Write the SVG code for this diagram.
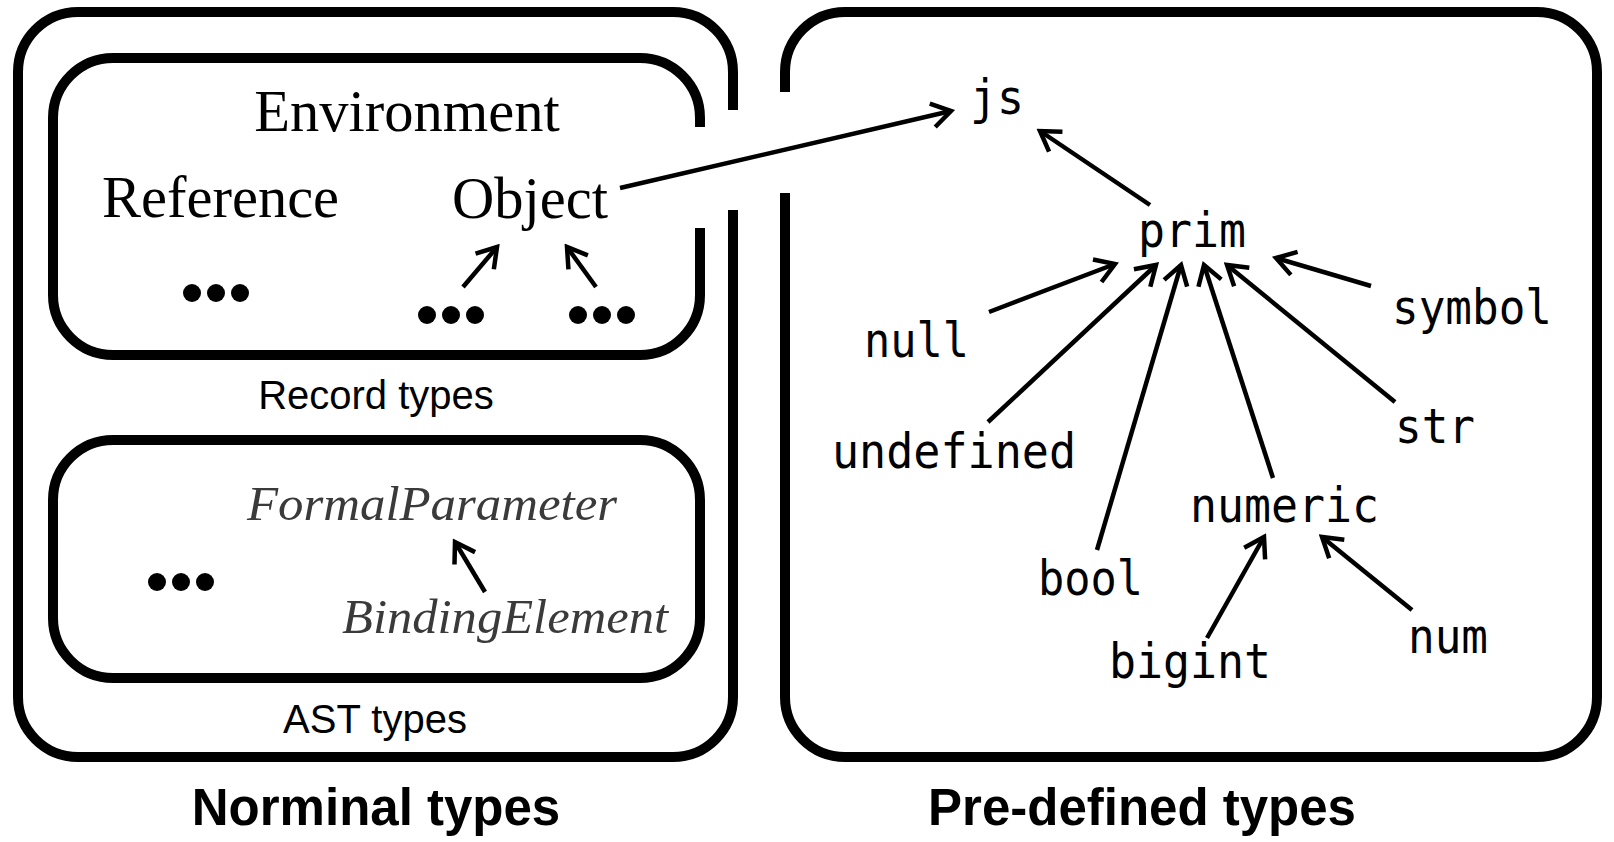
<svg xmlns="http://www.w3.org/2000/svg" width="1614" height="842" viewBox="0 0 1614 842">
<style>
.box{fill:none;stroke:#000;stroke-width:10}
.serif{font-family:"Liberation Serif","Times New Roman",serif;font-size:58.5px;fill:#000}
.ital{font-family:"Liberation Serif","Times New Roman",serif;font-style:italic;font-size:48px;fill:#3a3a3a}
.mono{font-family:"DejaVu Sans Mono","Liberation Mono",monospace;font-size:48px;fill:#000}
.sans{font-family:"Liberation Sans",Arial,sans-serif;font-size:40px;fill:#000;text-anchor:middle}
.title{font-family:"Liberation Sans",Arial,sans-serif;font-size:51px;font-weight:bold;fill:#000;text-anchor:middle}
.edge{fill:none;stroke:#000;stroke-width:4.5;marker-end:url(#arr)}
.dot{fill:#000}
</style>
<defs>
<marker id="arr" markerUnits="userSpaceOnUse" viewBox="-26 -16 30 32" refX="0" refY="0" markerWidth="30" markerHeight="32" orient="auto">
<path d="M-19,-12 L0,0 L-19,12" fill="none" stroke="#000" stroke-width="4.5" stroke-linejoin="miter"/>
</marker>
</defs>
<rect width="1614" height="842" fill="#fff"/>

<g id="nominal-types">
<path class="box" d="M733,110 V72 A60,60 0 0 0 673,12 H78 A60,60 0 0 0 18,72 V697 A60,60 0 0 0 78,757 H673 A60,60 0 0 0 733,697 V210"/>
<text class="title" x="376" y="825">Norminal types</text>
</g>

<g id="record-types">
<path class="box" d="M700,127 V118 A60,60 0 0 0 640,58 H113 A60,60 0 0 0 53,118 V295 A60,60 0 0 0 113,355 H640 A60,60 0 0 0 700,295 V228"/>
<text class="sans" x="376" y="409">Record types</text>
</g>

<g id="environment"><text class="serif" x="407" y="131" text-anchor="middle">Environment</text></g>
<g id="reference"><text class="serif" x="102" y="217">Reference</text></g>
<g id="object"><text class="serif" x="452" y="218">Object</text></g>
<g id="dots-ref"><circle class="dot" cx="192" cy="293" r="9"/><circle class="dot" cx="216" cy="293" r="9"/><circle class="dot" cx="240" cy="293" r="9"/></g>
<g id="dots-obj1"><circle class="dot" cx="427" cy="315" r="9"/><circle class="dot" cx="451" cy="315" r="9"/><circle class="dot" cx="475" cy="315" r="9"/></g>
<g id="dots-obj2"><circle class="dot" cx="578" cy="315" r="9"/><circle class="dot" cx="602" cy="315" r="9"/><circle class="dot" cx="626" cy="315" r="9"/></g>

<g id="ast-types">
<rect class="box" x="53" y="440" width="647" height="238" rx="60"/>
<text class="sans" x="375" y="733">AST types</text>
</g>
<g id="formal-parameter"><text class="ital" x="247" y="520" textLength="370" lengthAdjust="spacingAndGlyphs">FormalParameter</text></g>
<g id="binding-element"><text class="ital" x="342" y="633" textLength="326" lengthAdjust="spacingAndGlyphs">BindingElement</text></g>
<g id="dots-ast"><circle class="dot" cx="157" cy="582" r="9"/><circle class="dot" cx="181" cy="582" r="9"/><circle class="dot" cx="205" cy="582" r="9"/></g>

<g id="predefined-types">
<path class="box" d="M785,92 V72 A60,60 0 0 1 845,12 H1537 A60,60 0 0 1 1597,72 V697 A60,60 0 0 1 1537,757 H845 A60,60 0 0 1 785,697 V193"/>
<text class="title" x="1142" y="825">Pre-defined types</text>
</g>
<g id="js"><text class="mono" x="970" y="114" textLength="54" lengthAdjust="spacingAndGlyphs">js</text></g>
<g id="prim"><text class="mono" x="1138" y="247" textLength="108" lengthAdjust="spacingAndGlyphs">prim</text></g>
<g id="null"><text class="mono" x="864" y="357" textLength="105" lengthAdjust="spacingAndGlyphs">null</text></g>
<g id="symbol"><text class="mono" x="1392" y="324" textLength="160" lengthAdjust="spacingAndGlyphs">symbol</text></g>
<g id="undefined"><text class="mono" x="832" y="468" textLength="244" lengthAdjust="spacingAndGlyphs">undefined</text></g>
<g id="str"><text class="mono" x="1395" y="443" textLength="80" lengthAdjust="spacingAndGlyphs">str</text></g>
<g id="numeric"><text class="mono" x="1190" y="522" textLength="189" lengthAdjust="spacingAndGlyphs">numeric</text></g>
<g id="bool"><text class="mono" x="1038" y="595" textLength="105" lengthAdjust="spacingAndGlyphs">bool</text></g>
<g id="bigint"><text class="mono" x="1109" y="678" textLength="162" lengthAdjust="spacingAndGlyphs">bigint</text></g>
<g id="num"><text class="mono" x="1408" y="653" textLength="80" lengthAdjust="spacingAndGlyphs">num</text></g>

<g id="connectors">
<line class="edge" x1="463" y1="287" x2="497" y2="247"/>
<line class="edge" x1="596" y1="287" x2="567" y2="247"/>
<line class="edge" x1="485" y1="592" x2="455" y2="542"/>
<line class="edge" x1="620" y1="188" x2="951" y2="111"/>
<line class="edge" x1="1150" y1="205" x2="1040" y2="131"/>
<line class="edge" x1="989" y1="312" x2="1115" y2="264"/>
<line class="edge" x1="988" y1="422" x2="1156" y2="265"/>
<line class="edge" x1="1097" y1="550" x2="1181" y2="265"/>
<line class="edge" x1="1273" y1="478" x2="1204" y2="265"/>
<line class="edge" x1="1395" y1="402" x2="1227" y2="265"/>
<line class="edge" x1="1371" y1="286" x2="1276" y2="258"/>
<line class="edge" x1="1207" y1="638" x2="1264" y2="537"/>
<line class="edge" x1="1412" y1="610" x2="1322" y2="537"/>
</g>
</svg>
